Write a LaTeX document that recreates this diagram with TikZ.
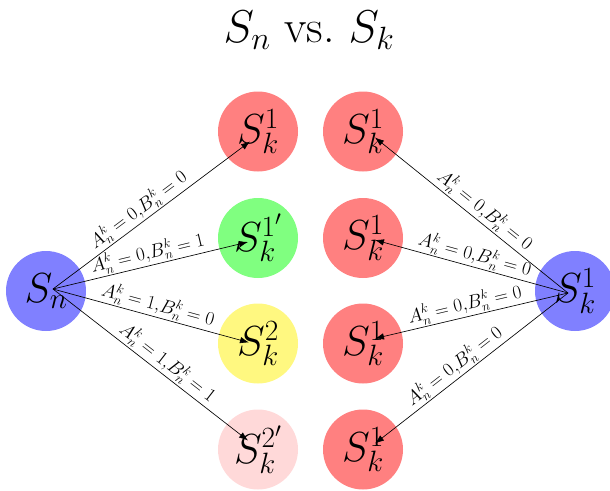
\documentclass[tikz,border=0pt]{standalone}
\usepackage{fix-cm}
\usetikzlibrary{arrows.meta}
\begin{document}
\begin{tikzpicture}[x=1pt,y=-1pt,
  state/.style={circle,inner sep=0pt,minimum size=80pt,font=\fontsize{42}{50}\selectfont},
  trans/.style={-{Latex[length=9pt,width=6.5pt]},line width=0.65pt},
  lab/.style={font=\fontsize{19}{22}\selectfont,sloped,above,inner sep=1.5pt}]
\useasboundingbox (0,0) rectangle (610,490);
\node[font=\fontsize{46}{54}\selectfont] (title) at (309,30) {$S_n$ vs.\ $S_k$};
% left group
\node[state,fill=blue!50] (sn) at (46,291) {$S_n$};
\node[state,fill=red!50] (a1) at (258,131.5) {$S_k^1$};
\node[state,fill=green!50] (a2) at (258,238) {$S_k^{1'}$};
\node[state,fill=yellow!50] (a3) at (258,343.5) {$S_k^2$};
\node[state,fill=red!15] (a4) at (258,449.5) {$S_k^{2'}$};
% right group
\node[state,fill=blue!50] (sk) at (575,291) {$S_k^1$};
\node[state,fill=red!50] (b1) at (363,131.5) {$S_k^1$};
\node[state,fill=red!50] (b2) at (363,238) {$S_k^1$};
\node[state,fill=red!50] (b3) at (363,343.5) {$S_k^1$};
\node[state,fill=red!50] (b4) at (363,449.5) {$S_k^1$};
% arrow end points
\coordinate (sno) at ([shift={(7,-2)}]sn.center);
\coordinate (a1i) at ([shift={(-8,10)}]a1.center);
\coordinate (a2i) at ([shift={(-10,4)}]a2.center);
\coordinate (a3i) at ([shift={(-9,-1)}]a3.center);
\coordinate (a4i) at ([shift={(-10,-9)}]a4.center);
\coordinate (sko) at ([shift={(-7,2)}]sk.center);
\coordinate (b1i) at ([shift={(12,6)}]b1.center);
\coordinate (b2i) at ([shift={(12,2)}]b2.center);
\coordinate (b3i) at ([shift={(12,-5)}]b3.center);
\coordinate (b4i) at ([shift={(12,-6)}]b4.center);
% arrows
\draw[trans] (sno) -- node[lab,pos=0.47]{$A_n^k=0{,}B_n^k=0$} (a1i);
\draw[trans] (sno) -- node[lab,pos=0.5]{$A_n^k=0{,}B_n^k=1$} (a2i);
\draw[trans] (sno) -- node[lab,pos=0.52]{$A_n^k=1{,}B_n^k=0$} (a3i);
\draw[trans] (sno) -- node[lab,pos=0.55]{$A_n^k=1{,}B_n^k=1$} (a4i);
\draw[trans] (sko) -- node[lab,pos=0.47]{$A_n^k=0{,}B_n^k=0$} (b1i);
\draw[trans] (sko) -- node[lab,pos=0.5]{$A_n^k=0{,}B_n^k=0$} (b2i);
\draw[trans] (sko) -- node[lab,pos=0.52]{$A_n^k=0{,}B_n^k=0$} (b3i);
\draw[trans] (sko) -- node[lab,pos=0.55]{$A_n^k=0{,}B_n^k=0$} (b4i);
\end{tikzpicture}
\end{document}
